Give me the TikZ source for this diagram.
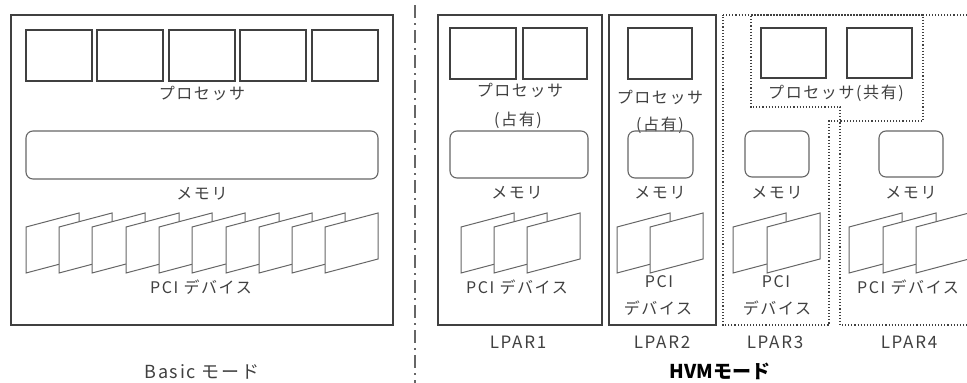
\documentclass[tikz,border=0pt]{standalone}
\usepackage{fontspec}
\setmainfont{Noto Sans CJK JP}
\newfontfamily\gothic[LetterSpace=10]{Noto Sans CJK JP}
\usepackage{tikz}
\usetikzlibrary{calc}
\definecolor{sqsqsq}{rgb}{0.25,0.25,0.25}
\definecolor{wwwwww}{rgb}{0.4,0.4,0.4}
\tikzstyle{every node}=[font=\gothic\fontsize{16}{16}\selectfont,text=sqsqsq,inner sep=0pt]
\tikzset{
  part/.style={line width=1.3pt,color=sqsqsq},
  shared/.style={line width=1.1pt,color=sqsqsq,dotted},
  mem/.style={line width=1.1pt,color=wwwwww,rounded corners=7pt},
  card/.style={line width=1pt,color=wwwwww,fill=white},
  mode/.style={font=\gothic\fontsize{17}{17}\selectfont}
}
\newcommand{\pcicard}[1]{\draw [card] (#1,227) -- ++(53,-14) -- ++(0,46) -- ++(-53,14) -- cycle;}

\begin{document}
\begin{tikzpicture}[line cap=butt,line join=miter,x=1pt,y=-1pt]
                \useasboundingbox (0,0) rectangle (967,383);
                \clip (0,0) rectangle (967,383);
                \draw [part] (11,15) rectangle (393,325);
                \draw [part] (26,30) rectangle (92,81);
                \draw [part] (97,30) rectangle (163,81);
                \draw [part] (169,30) rectangle (235,81);
                \draw [part] (240,30) rectangle (306,81);
                \draw [part] (312,30) rectangle (378,81);
                \node (procB) at (202,93) {プロセッサ};
                \draw [mem] (26,131) rectangle (378,179);
                \node (memB) at (202,194) {メモリ};
                \pcicard{26} \pcicard{59} \pcicard{92} \pcicard{126} \pcicard{159}
                \pcicard{192} \pcicard{226} \pcicard{259} \pcicard{292} \pcicard{325}
                \node (pciB) at (201,287) {PCI デバイス};
                \node [mode,font=\gothic\fontsize{18}{18}\selectfont] (basic) at (202,372) {Basic モード};
                \draw [line width=1.3pt,color=wwwwww,dash pattern=on 13pt off 5pt on 1.5pt off 5.5pt] (415,5) -- (415,383);
                \draw [part] (438,15) rectangle (602,325);
                \draw [part] (450,28) rectangle (516,79);
                \draw [part] (523,28) rectangle (587,79);
                \node (procA) at (520,90) {プロセッサ};
                \node (ownA) at (518,120) {(占有)};
                \draw [mem] (450,131) rectangle (588,178);
                \node (memA) at (517,193) {メモリ};
                \pcicard{461} \pcicard{494} \pcicard{527}
                \node (pciA) at (517,287) {PCI デバイス};
                \node [mode] (lparA) at (518,342) {LPAR1};
                \draw [part] (609,15) rectangle (716,325);
                \draw [part] (628,28) rectangle (692,79);
                \node (procC) at (660,97) {プロセッサ};
                \node (ownC) at (660,125) {(占有)};
                \draw [mem] (628,131) rectangle (693,178);
                \node (memC) at (660,193) {メモリ};
                \pcicard{617} \pcicard{650}
                \node (pciC) at (659,282) {PCI};
                \node (devC) at (658,308) {デバイス};
                \node [mode] (lparC) at (662,342) {LPAR2};
                \draw [shared] (723,15) -- (923,15) -- (923,121) -- (829,121) -- (829,325) -- (723,325) -- cycle;
                \draw [shared] (970,15) -- (751,15) -- (751,107) -- (840,107) -- (840,325) -- (970,325);
                \draw [part] (761,28) rectangle (826,78);
                \draw [part] (847,28) rectangle (912,78);
                \node (procS) at (836,93) {プロセッサ(共有)};
                \draw [mem] (745,131) rectangle (809,177);
                \node (memD) at (777,193) {メモリ};
                \pcicard{733} \pcicard{767}
                \node (pciD) at (776,282) {PCI};
                \node (devD) at (777,308) {デバイス};
                \node [mode] (lparD) at (775,342) {LPAR3};
                \draw [mem] (879,131) rectangle (943,177);
                \node (memE) at (911,193) {メモリ};
                \pcicard{849} \pcicard{883} \pcicard{916}
                \node (pciE) at (908,287) {PCI デバイス};
                \node [mode] (lparE) at (909,342) {LPAR4};
                \node [font=\fontsize{19}{19}\selectfont\bfseries,text=black] (hvm) at (720,371) {HVMモード};
\end{tikzpicture}
\end{document}
